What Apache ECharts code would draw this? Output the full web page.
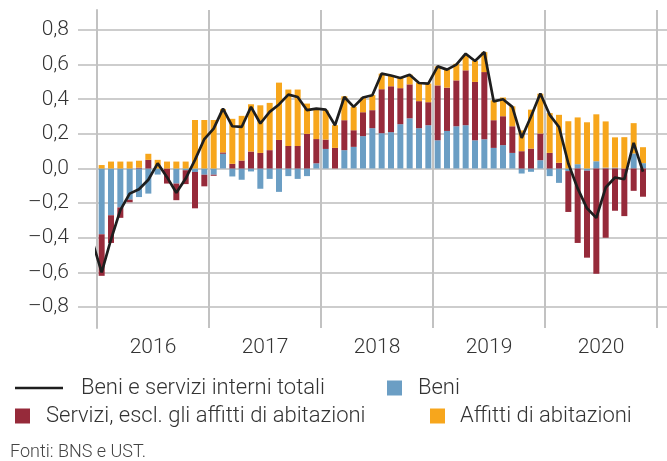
<!DOCTYPE html>
<html>
<head>
<meta charset="utf-8">
<script src="https://cdn.jsdelivr.net/npm/echarts@6/dist/echarts.min.js"></script>
<style>
html, body { margin: 0; padding: 0; background: #fff; }
#chart { width: 667px; height: 461px; }
</style>
</head>
<body>
<div id="chart"></div>
<script>
// mesi: dic 2015 (solo per l'attacco della linea) ... dic 2020
const months = []
for (let y = 2015; y <= 2020; y++) {
    for (let m = 1; m <= 12; m++) {
        if (y === 2015 && m < 12) continue
        months.push(y + '-' + (m < 10 ? '0' + m : m))
    }
}
const years = ['2016', '2017', '2018', '2019', '2020']

// contributi in punti percentuali (dic 2015 = null, dic 2020 = null)
const beni = [null,
    -0.38, -0.27, -0.225, -0.18, -0.165, -0.145, -0.035, 0, -0.087, -0.01, -0.02, -0.036,
    -0.036, 0.085, -0.046, -0.065, -0.017, -0.117, -0.06, -0.135, -0.044, -0.06, -0.044, 0.03,
    0.113, 0, 0.106, 0.125, 0.187, 0.233, 0.204, 0.21, 0.256, 0.29, 0.233, 0.25,
    0.163, 0.217, 0.244, 0.25, 0.163, 0.169, 0.119, 0.135, 0.09, -0.029, -0.019, 0.048,
    -0.044, -0.083, -0.015, 0.025, -0.013, 0.042, 0.005, 0.005, 0, 0.087, 0.031, null]
const servizi = [null,
    -0.24, -0.16, -0.06, -0.015, 0.005, 0.05, 0, -0.087, -0.096, -0.08, -0.21, -0.067,
    -0.006, 0.008, 0.027, 0.046, 0.098, 0.09, 0.106, 0.165, 0.13, 0.13, 0.2, 0.14,
    0.054, 0.119, 0.173, 0.096, 0.138, 0.104, 0.254, 0.265, 0.208, 0.196, 0.156, 0.133,
    0.317, 0.25, 0.265, 0.317, 0.337, 0.388, 0.16, 0.167, 0.154, 0.1, 0.115, 0.154,
    0.09, 0.033, -0.236, -0.43, -0.502, -0.608, -0.4, -0.244, -0.275, -0.129, -0.163, null]
const affitti = [null,
    0.02, 0.04, 0.04, 0.04, 0.04, 0.035, 0.05, 0.04, 0.04, 0.04, 0.28, 0.28,
    0.28, 0.25, 0.26, 0.258, 0.273, 0.275, 0.273, 0.331, 0.326, 0.326, 0.175, 0.175,
    0.169, 0.131, 0.138, 0.135, 0.085, 0.087, 0.09, 0.062, 0.06, 0.056, 0.106, 0.108,
    0.11, 0.104, 0.096, 0.087, 0.121, 0.115, 0.115, 0.108, 0.115, 0.12, 0.225, 0.23,
    0.23, 0.277, 0.273, 0.27, 0.267, 0.271, 0.267, 0.175, 0.181, 0.175, 0.092, null]
const totale = [-0.42,
    -0.6, -0.41, -0.24, -0.145, -0.12, -0.065, 0.03, -0.05, -0.14, -0.058, 0.05, 0.17,
    0.23, 0.346, 0.244, 0.24, 0.356, 0.26, 0.327, 0.37, 0.427, 0.413, 0.337, 0.346,
    0.34, 0.25, 0.413, 0.356, 0.41, 0.423, 0.548, 0.537, 0.523, 0.542, 0.494, 0.49,
    0.59, 0.571, 0.6, 0.663, 0.621, 0.673, 0.388, 0.4, 0.356, 0.177, 0.3, 0.433,
    0.31, 0.24, 0.029, -0.115, -0.23, -0.285, -0.11, -0.052, -0.062, 0.148, -0.019, null]

const font = 'Roboto, "Liberation Sans", sans-serif'
const txt = '#333'
const grey = '#c2c2c2'

const chart = echarts.init(document.getElementById('chart'), null, { renderer: 'canvas' })

function fmt(v) {
    return (v < 0 ? '\u2013' : '') + Math.abs(v).toFixed(1).replace('.', ',')
}

const legendText = { color: txt, fontSize: 22, fontFamily: font, fontWeight: 300 }

chart.setOption({
    animation: false,
    grid: [
        { left: 78, right: 0, top: 30, bottom: 154 },   // griglia orizzontale
        { left: 97, right: 10, top: 10, bottom: 133 },  // separatori anni
        { left: 97, right: 10, top: 30, bottom: 154 }   // dati
    ],
    xAxis: [
        { gridIndex: 0, type: 'value', show: false, min: 0, max: 1 },
        {
            gridIndex: 1,
            type: 'category',
            data: years,
            boundaryGap: true,
            axisLine: { show: false },
            axisTick: { show: false },
            axisLabel: { color: txt, fontSize: 21, fontFamily: font, fontWeight: 300, margin: 9 },
            splitLine: { show: true, lineStyle: { color: grey, width: 2 } }
        },
        {
            gridIndex: 2,
            type: 'category',
            data: months,
            min: 1,
            boundaryGap: true,
            show: false
        }
    ],
    yAxis: [
        {
            gridIndex: 0,
            type: 'value',
            min: -0.8,
            max: 0.8,
            interval: 0.2,
            axisLine: { show: false },
            axisTick: { show: false },
            axisLabel: { color: txt, fontSize: 21, fontFamily: font, fontWeight: 300, margin: 9, formatter: fmt },
            splitLine: { lineStyle: { color: '#bcbcbc', width: 1.5 } }
        },
        {
            gridIndex: 1,
            type: 'value',
            min: 0,
            max: 1,
            axisLine: { show: true, lineStyle: { color: grey, width: 2 } },
            axisTick: { show: false },
            axisLabel: { show: false },
            splitLine: { show: false }
        },
        {
            gridIndex: 2,
            type: 'value',
            min: -0.8,
            max: 0.8,
            show: false,
            splitLine: { show: false }
        }
    ],
    legend: [
        {
            data: [{ name: 'Beni e servizi interni totali', icon: 'rect', itemStyle: { color: '#1e1e1e' } }],
            left: 10, top: 372,
            itemWidth: 48, itemHeight: 2.5,
            selectedMode: false,
            textStyle: Object.assign({ padding: [0, 0, 0, 13] }, legendText)
        },
        {
            data: [{ name: 'Beni', icon: 'rect' }],
            left: 382, top: 372,
            itemWidth: 15, itemHeight: 15,
            selectedMode: false,
            textStyle: Object.assign({ padding: [0, 0, 0, 11] }, legendText)
        },
        {
            data: [{ name: 'Servizi, escl. gli affitti di abitazioni', icon: 'rect' }],
            left: 10, top: 400,
            itemWidth: 15, itemHeight: 15,
            selectedMode: false,
            textStyle: Object.assign({ padding: [0, 0, 0, 11] }, legendText)
        },
        {
            data: [{ name: 'Affitti di abitazioni', icon: 'rect' }],
            left: 425, top: 400,
            itemWidth: 15, itemHeight: 15,
            selectedMode: false,
            textStyle: Object.assign({ padding: [0, 0, 0, 10] }, legendText)
        }
    ],
    graphic: [{
        type: 'text',
        left: 10,
        top: 443,
        style: { text: 'Fonti: BNS e UST.', fill: '#444', fontSize: 18, fontFamily: font, fontWeight: 300 }
    }],
    series: [
        {
            name: 'Beni',
            type: 'bar',
            xAxisIndex: 2, yAxisIndex: 2,
            stack: 'tot',
            barWidth: 6,
            itemStyle: { color: '#6b9ec4' },
            data: beni
        },
        {
            name: 'Servizi, escl. gli affitti di abitazioni',
            type: 'bar',
            xAxisIndex: 2, yAxisIndex: 2,
            stack: 'tot',
            barWidth: 6,
            itemStyle: { color: '#962a3a' },
            data: servizi
        },
        {
            name: 'Affitti di abitazioni',
            type: 'bar',
            xAxisIndex: 2, yAxisIndex: 2,
            stack: 'tot',
            barWidth: 6,
            itemStyle: { color: '#f7a61c' },
            data: affitti
        },
        {
            name: 'Beni e servizi interni totali',
            type: 'line',
            xAxisIndex: 2, yAxisIndex: 2,
            symbol: 'none',
            z: 5,
            lineStyle: { color: '#1e1e1e', width: 2.7 },
            itemStyle: { color: '#1e1e1e' },
            data: totale
        }
    ]
})
</script>
</body>
</html>
